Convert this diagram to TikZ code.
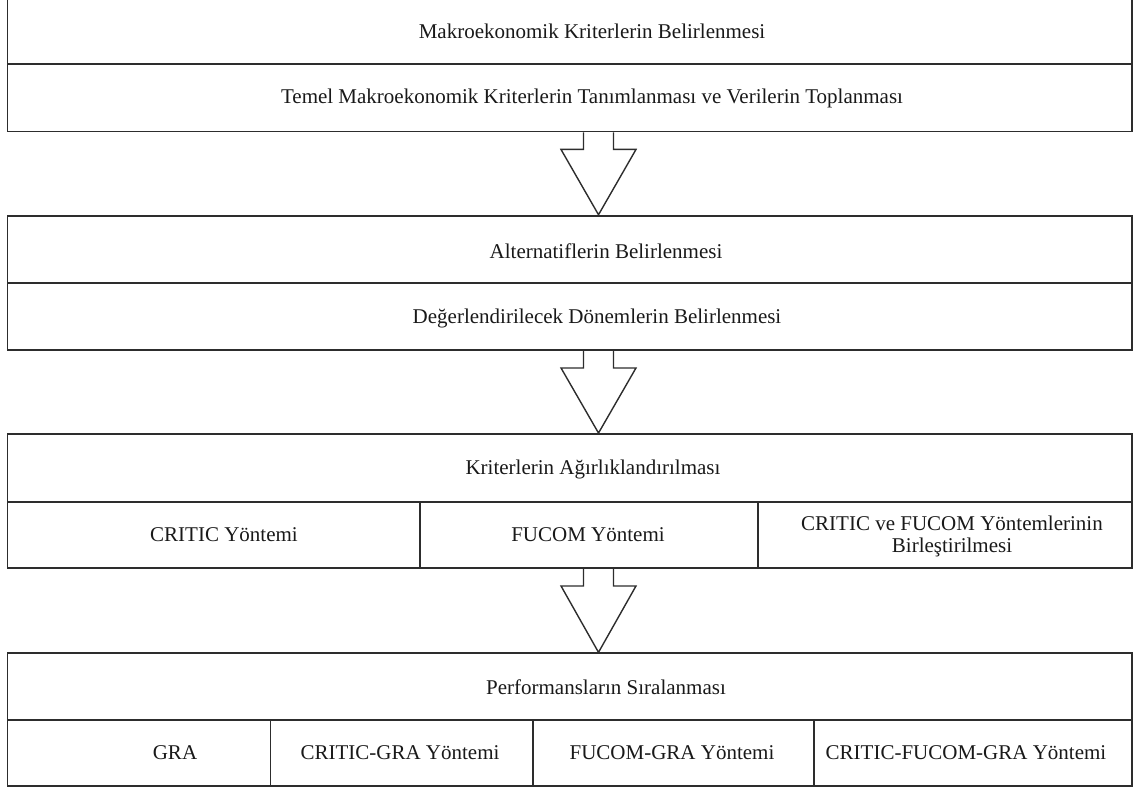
\documentclass[tikz,border=0pt]{standalone}
\usepackage{fontspec}
\setmainfont{Liberation Serif}
\usetikzlibrary{calc,backgrounds}
\definecolor{linec}{RGB}{45,45,45}
\definecolor{textc}{RGB}{25,25,25}
\tikzset{
  cell/.style={draw=linec, line width=1.9pt, rectangle, inner sep=0pt},
  lbl/.style={text=textc, inner sep=0pt, font=\fontsize{21}{22}\selectfont, align=center},
  blockarrow/.style={draw=linec, line width=1.4pt, fill=white, line join=miter}
}
\newcommand{\blockarr}[2]{%
  \draw[blockarrow] (#1) ++(-15,0) -- ++(0,17) -- ++(-22.5,0) -- (#2) -- ($(#1)+(37.5,17)$) -- ++(-22.5,0) -- ++(0,-17);
}
\begin{document}
\begin{tikzpicture}[x=1pt,y=-1pt]
\useasboundingbox (0,0) rectangle (1134,791);
% Box 1
\node[cell, minimum width=1124.5pt, minimum height=65pt] (b1a) at (569.75,31.5) {};
\node[cell, minimum width=1124.5pt, minimum height=67.5pt] (b1b) at (569.75,97.75) {};
\node[lbl] (t1a) at (592,31) {Makroekonomik Kriterlerin Belirlenmesi};
\node[lbl] (t1b) at (592,98) {Temel Makroekonomik Kriterlerin Tanımlanması ve Verilerin Toplanması};
% Box 2
\node[cell, minimum width=1124.5pt, minimum height=67pt] (b2a) at (569.75,249.2) {};
\node[cell, minimum width=1124.5pt, minimum height=67.3pt] (b2b) at (569.75,316.35) {};
\node[lbl] (t2a) at (606,251) {Alternatiflerin Belirlenmesi};
\node[lbl] (t2b) at (597,318) {Değerlendirilecek Dönemlerin Belirlenmesi};
% Box 3
\node[cell, minimum width=1124.5pt, minimum height=68pt] (b3a) at (569.75,468) {};
\node[cell, minimum width=412.5pt, minimum height=66pt] (b3b) at (213.75,535) {};
\node[cell, minimum width=338.3pt, minimum height=66pt] (b3c) at (589.15,535) {};
\node[cell, minimum width=373.7pt, minimum height=66pt] (b3d) at (945.15,535) {};
\node[lbl] (t3a) at (593,469) {Kriterlerin Ağırlıklandırılması};
\node[lbl] (t3b) at (224,535) {CRITIC Yöntemi};
\node[lbl] (t3c) at (588,535) {FUCOM Yöntemi};
\node[lbl] (t3d) at (952,536) {CRITIC ve FUCOM Yöntemlerinin\\Birleştirilmesi};
% Box 4
\node[cell, minimum width=1124.5pt, minimum height=66.7pt] (b4a) at (569.75,686.65) {};
\node[cell, minimum width=263pt, minimum height=66pt] (b4b) at (139,753) {};
\node[cell, minimum width=262.2pt, minimum height=66pt] (b4c) at (401.6,753) {};
\node[cell, minimum width=281.3pt, minimum height=66pt] (b4d) at (673.35,753) {};
\node[cell, minimum width=318pt, minimum height=66pt] (b4e) at (973,753) {};
\node[lbl] (t4a) at (606,687) {Performansların Sıralanması};
\node[lbl] (t4b) at (175,753) {GRA};
\node[lbl] (t4c) at (400,753) {CRITIC-GRA Yöntemi};
\node[lbl] (t4d) at (672,753) {FUCOM-GRA Yöntemi};
\node[lbl] (t4e) at (966,753) {CRITIC-FUCOM-GRA Yöntemi};
% arrows
\coordinate (a1s) at (b1b.south -| 598.5,0);
\coordinate (a1e) at (b2a.north -| 598.5,0);
\coordinate (a2s) at (b2b.south -| 598.5,0);
\coordinate (a2e) at (b3a.north -| 598.5,0);
\coordinate (a3s) at (b3c.south -| 598.5,0);
\coordinate (a3e) at (b4a.north -| 598.5,0);
\begin{scope}[on background layer]
\blockarr{a1s}{a1e}
\blockarr{a2s}{a2e}
\blockarr{a3s}{a3e}
\end{scope}
\end{tikzpicture}
\end{document}
